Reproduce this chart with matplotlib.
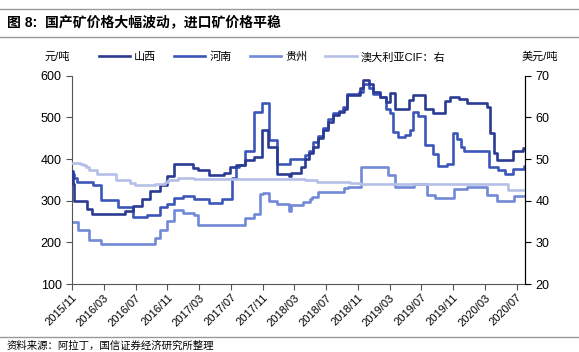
import matplotlib
matplotlib.use("Agg")
import matplotlib.pyplot as plt
from matplotlib.lines import Line2D

plt.rcParams['font.family'] = ['Liberation Sans', 'Noto Sans CJK SC', 'DejaVu Sans']

# time axis: months since 2015/11
tick_labels = ["2015/11", "2016/03", "2016/07", "2016/11", "2017/03", "2017/07", "2017/11", "2018/03",
               "2018/07", "2018/11", "2019/03", "2019/07", "2019/11", "2020/03", "2020/07"]

# 山西 (元/吨)
sx_t = [0, 0.12, 0.3, 1.9, 2.5, 6.7, 7.7, 8.8, 9.8, 11.1, 11.9, 12.8, 15.2, 15.9, 17.2, 19.1, 19.9, 20.7,
        21.8, 22.9, 23.9, 24.7, 25.8, 27.3, 27.6, 28.9, 29.3, 29.8, 30.4, 31.0, 31.6, 32.3, 32.9, 33.6, 34.3,
        34.6, 36.3, 36.7, 37.4, 37.9, 38.8, 39.6, 40.0, 40.7, 42.4, 43.0, 44.5, 45.5, 47.0, 47.6, 48.7, 49.7,
        52.3, 52.6, 53.2, 53.5, 55.6, 56.8, 57.1]
sx_v = [372, 340, 300, 280, 268, 275, 287, 305, 323, 338, 360, 388, 378, 373, 361, 366, 380, 385,
        398, 405, 470, 430, 365, 360, 366, 382, 400, 414, 430, 450, 470, 490, 505, 512, 520,
        553, 570, 590, 580, 562, 550, 538, 558, 519, 542, 554, 520, 511, 539, 550, 543, 534,
        524, 462, 415, 398, 420, 426, 426]

# 河南 (元/吨)
hn_t = [0, 0.25, 0.6, 2.7, 3.7, 5.8, 7.7, 9.4, 11.1, 11.9, 12.8, 14.0, 15.3, 17.2, 18.9, 20.1, 20.7, 21.0,
        21.8, 22.9, 23.9, 24.8, 25.8, 27.5, 29.3, 29.9, 30.4, 31.0, 31.6, 32.3, 32.9, 33.6, 34.1, 34.6, 36.1,
        36.7, 37.4, 37.9, 38.8, 39.5, 40.05, 40.4, 41.0, 41.9, 42.6, 43.0, 43.6, 44.5, 45.5, 46.1, 47.2, 48.0,
        48.5, 49.0, 49.4, 52.5, 53.6, 54.5, 55.6, 56.9, 57.1]
hn_v = [365, 355, 346, 338, 302, 285, 261, 266, 285, 291, 307, 311, 305, 295, 305, 355, 380, 385,
        420, 514, 535, 446, 389, 400, 410, 420, 440, 455, 475, 497, 510, 515, 525, 555, 560,
        580, 570, 557, 548, 520, 510, 466, 454, 458, 469, 513, 503, 433, 412, 383, 389, 462,
        448, 428, 420, 381, 374, 364, 376, 383, 383]

# 贵州 (元/吨)
gz_t = [0, 0.8, 2.1, 3.7, 10.5, 11.1, 11.9, 12.8, 14.0, 15.3, 15.9, 21.8, 22.9, 23.7, 24.0, 24.8, 25.8, 27.3,
        27.6, 29.1, 30.0, 30.2, 31.0, 34.2, 34.8, 36.4, 39.8, 40.7, 43.1, 44.7, 45.7, 48.1, 49.8, 52.3, 53.5,
        55.7, 57.1]
gz_v = [250, 230, 205, 196, 210, 230, 252, 278, 271, 266, 242, 259, 267, 315, 319, 299, 291, 276,
        290, 298, 303, 308, 322, 330, 334, 381, 362, 333, 339, 313, 307, 327, 332, 313, 300,
        311, 311]

# 澳大利亚CIF (美元/吨, right axis)
cif_t = [0, 1.0, 1.4, 1.8, 2.2, 3.1, 5.5, 7.3, 7.9, 10.4, 11.7, 12.1, 13.4, 15.3, 29.4, 30.8, 35.0, 36.3,
         54.9, 57.1]
cif_v = [49.1, 48.8, 48.5, 48.1, 47.3, 46.3, 45.0, 44.3, 43.8, 44.1, 44.5, 45.0, 45.5, 45.3, 45.0, 44.6,
         44.3, 44.0, 42.6, 42.6]

c_sx = "#2B3B94"
c_hn = "#3B56B8"
c_gz = "#7189D6"
c_cif = "#B5BFE8"

fig = plt.figure(figsize=(5.79, 3.52), dpi=100)
ax = fig.add_axes([0.1244, 0.193, 0.7823, 0.592])
ax2 = ax.twinx()

lw = 1.9
l1, = ax.plot(sx_t, sx_v, drawstyle='steps-post', color=c_sx, lw=lw, label="山西", zorder=4)
l2, = ax.plot(hn_t, hn_v, drawstyle='steps-post', color=c_hn, lw=lw, label="河南", zorder=3)
l3, = ax.plot(gz_t, gz_v, drawstyle='steps-post', color=c_gz, lw=lw, label="贵州", zorder=2)
l4, = ax2.plot(cif_t, cif_v, drawstyle='steps-post', color=c_cif, lw=lw, label="澳大利亚CIF：右")

ax.set_xlim(0, 57.05)
ax.set_ylim(100, 600)
ax2.set_ylim(20, 70)
ax.set_yticks(range(100, 601, 100))
ax2.set_yticks(range(20, 71, 10))
ax.set_xticks(range(0, 57, 4))
ax.set_xticklabels(tick_labels, rotation=45, ha='right', rotation_mode='anchor', fontsize=8)
ax.tick_params(axis='y', labelsize=9, length=4, color='#555555')
ax.tick_params(axis='x', length=4, color='#555555', pad=2)
ax2.tick_params(axis='y', labelsize=9, length=4, color='black')

for a in (ax, ax2):
    a.spines['top'].set_visible(False)
ax.spines['left'].set_color('#555555')
ax.spines['bottom'].set_color('#555555')
ax2.spines['left'].set_visible(False)
ax2.spines['bottom'].set_visible(False)
ax2.spines['right'].set_color('black')

fig.legend(handles=[l1, l2, l3, l4], loc='center', bbox_to_anchor=(0.47, 0.838), ncol=4, frameon=False,
           fontsize=8, handlelength=2.8, columnspacing=1.6, handletextpad=0.4)

fig.text(0.098, 0.838, "元/吨", ha='center', va='center', fontsize=8)
fig.text(0.933, 0.838, "美元/吨", ha='center', va='center', fontsize=8)

fig.text(0.012, 0.937, "图 8:  国产矿价格大幅波动，进口矿价格平稳", fontsize=10, fontweight='bold',
         ha='left', va='center')
fig.add_artist(Line2D([0, 1], [0.975, 0.975], color='#999999', lw=1))
fig.add_artist(Line2D([0, 1], [0.895, 0.895], color='#999999', lw=1))
fig.add_artist(Line2D([0, 1], [0.042, 0.042], color='#999999', lw=1))
fig.text(0.012, 0.004, "资料来源：阿拉丁，国信证券经济研究所整理", fontsize=7.5, ha='left', va='bottom')

fig.savefig("out.png", dpi=100)
